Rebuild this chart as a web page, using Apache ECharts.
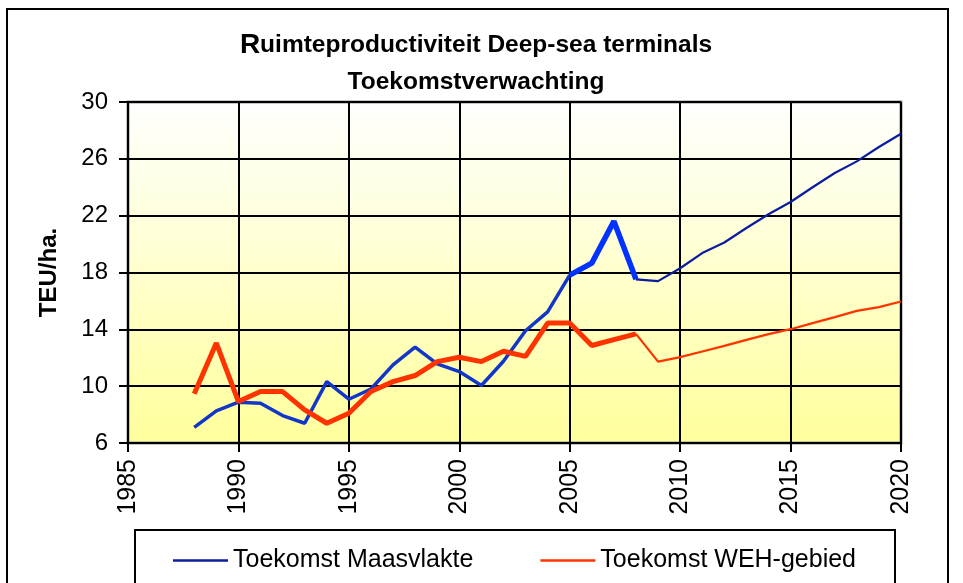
<!DOCTYPE html>
<html>
<head>
<meta charset="utf-8">
<script src="https://cdn.jsdelivr.net/npm/echarts@6/dist/echarts.min.js"></script>
<style>
html,body{margin:0;padding:0;background:#fff;}
#chart{width:963px;height:583px;}
</style>
</head>
<body>
<div id="chart"></div>
<script>
// ---- data ----
const histYears = [1988,1989,1990,1991,1992,1993,1994,1995,1996,1997,1998,1999,2000,2001,2002,2003,2004,2005,2006,2007,2008];
const maasHist  = [7.1,8.26,8.87,8.8,7.93,7.39,10.32,9.08,9.8,11.5,12.75,11.57,11.03,10.05,11.75,13.9,15.23,17.82,18.66,21.6,17.52];
const wehHist   = [9.46,13.03,8.92,9.62,9.62,8.33,7.39,8.1,9.62,10.32,10.75,11.73,12.04,11.73,12.46,12.1,14.44,14.44,12.86,13.28,13.68];
const projYears = [2008,2009,2010,2011,2012,2013,2014,2015,2016,2017,2018,2019,2020];
const maasProj  = [17.52,17.39,18.3,19.37,20.11,21.13,22.1,22.96,24.0,25.0,25.82,26.83,27.77];
const wehProj   = [13.68,11.73,12.04,12.44,12.84,13.26,13.66,14.01,14.44,14.86,15.3,15.56,15.96];
const yTicks = [6,10,14,18,22,26,30];
const xTicks = [1985,1990,1995,2000,2005,2010,2015,2020];
const seriesNames = ['Toekomst Maasvlakte','Toekomst WEH-gebied'];
const titleLine1 = 'Ruimteproductiviteit Deep-sea terminals';
const titleLine2 = 'Toekomstverwachting';
const yName = 'TEU/ha.';

function pairs(xs, ys, from, to) {
  const out = [];
  for (let i = 0; i < xs.length; i++) {
    if (xs[i] >= from && xs[i] <= to) out.push([xs[i], ys[i]]);
  }
  return out;
}

const FONT = '"Liberation Sans", Arial, sans-serif';
const chart = echarts.init(document.getElementById('chart'));
chart.setOption({
  animation: false,
  backgroundColor: '#fff',
  graphic: [
    {type:'rect', shape:{x:7,y:9,width:941,height:620}, style:{fill:'none',stroke:'#000',lineWidth:2}, z:100},
    {type:'rect', shape:{x:135,y:530,width:760,height:80}, style:{fill:'none',stroke:'#000',lineWidth:2}, z:100},
    {type:'text', x:476, y:45, z:100, style:{
      text:'{r|' + titleLine1.charAt(0) + '}{t|' + titleLine1.slice(1) + '}',
      textAlign:'center', textVerticalAlign:'middle',
      rich:{
        r:{fontFamily:FONT,fontWeight:'bold',fontSize:28,fill:'#000'},
        t:{fontFamily:FONT,fontWeight:'bold',fontSize:24.5,fill:'#000'}
      }
    }},
    {type:'text', x:476, y:82, z:100, style:{
      text:titleLine2, textAlign:'center', textVerticalAlign:'middle',
      fontFamily:FONT, fontWeight:'bold', fontSize:24.5, fill:'#000'
    }}
  ],
  grid: {
    left:128, right:62, top:102, bottom:140,
    show:true,
    borderColor:'#8c8c8c', borderWidth:3,
    backgroundColor: new echarts.graphic.LinearGradient(0,0,0,1,[
      {offset:0,color:'#ffffff'},
      {offset:1,color:'#ffff9c'}
    ])
  },
  legend: {
    data: seriesNames,
    icon:'rect',
    left:168, top:543,
    itemWidth:55, itemHeight:2.5, itemGap:67,
    textStyle:{fontFamily:FONT,fontSize:25,color:'#000'}
  },
  xAxis: {
    type:'value', min:xTicks[0], max:xTicks[xTicks.length-1], interval:5,
    axisLine:{show:true,onZero:false,lineStyle:{color:'#000',width:2}},
    axisTick:{show:true,length:9,lineStyle:{color:'#000',width:2}},
    splitLine:{show:true,lineStyle:{color:'#000',width:2}},
    axisLabel:{rotate:90,margin:16,fontFamily:FONT,fontSize:25,color:'#000',
      formatter:function(v){return String(v);}}
  },
  yAxis: {
    type:'value', min:yTicks[0], max:yTicks[yTicks.length-1], interval:4,
    name:yName, nameLocation:'middle', nameGap:67, nameRotate:90,
    nameTextStyle:{fontFamily:FONT,fontWeight:'bold',fontSize:24,color:'#000'},
    axisLine:{show:true,lineStyle:{color:'#000',width:2}},
    axisTick:{show:true,length:9,lineStyle:{color:'#000',width:2}},
    splitLine:{show:true,lineStyle:{color:'#000',width:2}},
    axisLabel:{margin:20,fontFamily:FONT,fontSize:24,color:'#000'}
  },
  series: [
    {name:'Maasvlakte 1988-2005', type:'line', symbol:'none', z:3,
     data:pairs(histYears, maasHist, 1988, 2005),
     lineStyle:{color:'#1236c8',width:3.5}, itemStyle:{color:'#1236c8'}},
    {name:'WEH-gebied 1988-2008', type:'line', symbol:'none', z:4,
     data:pairs(histYears, wehHist, 1988, 2008),
     lineStyle:{color:'#ff3300',width:5}, itemStyle:{color:'#ff3300'}},
    {name:'Maasvlakte 2005-2008', type:'line', symbol:'none', z:5,
     data:pairs(histYears, maasHist, 2005, 2008),
     lineStyle:{color:'#0033ff',width:5.5}, itemStyle:{color:'#0033ff'}},
    {name:seriesNames[0], type:'line', symbol:'none', z:5,
     data:pairs(projYears, maasProj, 2008, 2020),
     lineStyle:{color:'#0c1c9e',width:2.2}, itemStyle:{color:'#0c1c9e'}},
    {name:seriesNames[1], type:'line', symbol:'none', z:5,
     data:pairs(projYears, wehProj, 2008, 2020),
     lineStyle:{color:'#ff3300',width:2.2}, itemStyle:{color:'#ff3300'}}
  ]
});
</script>
</body>
</html>
